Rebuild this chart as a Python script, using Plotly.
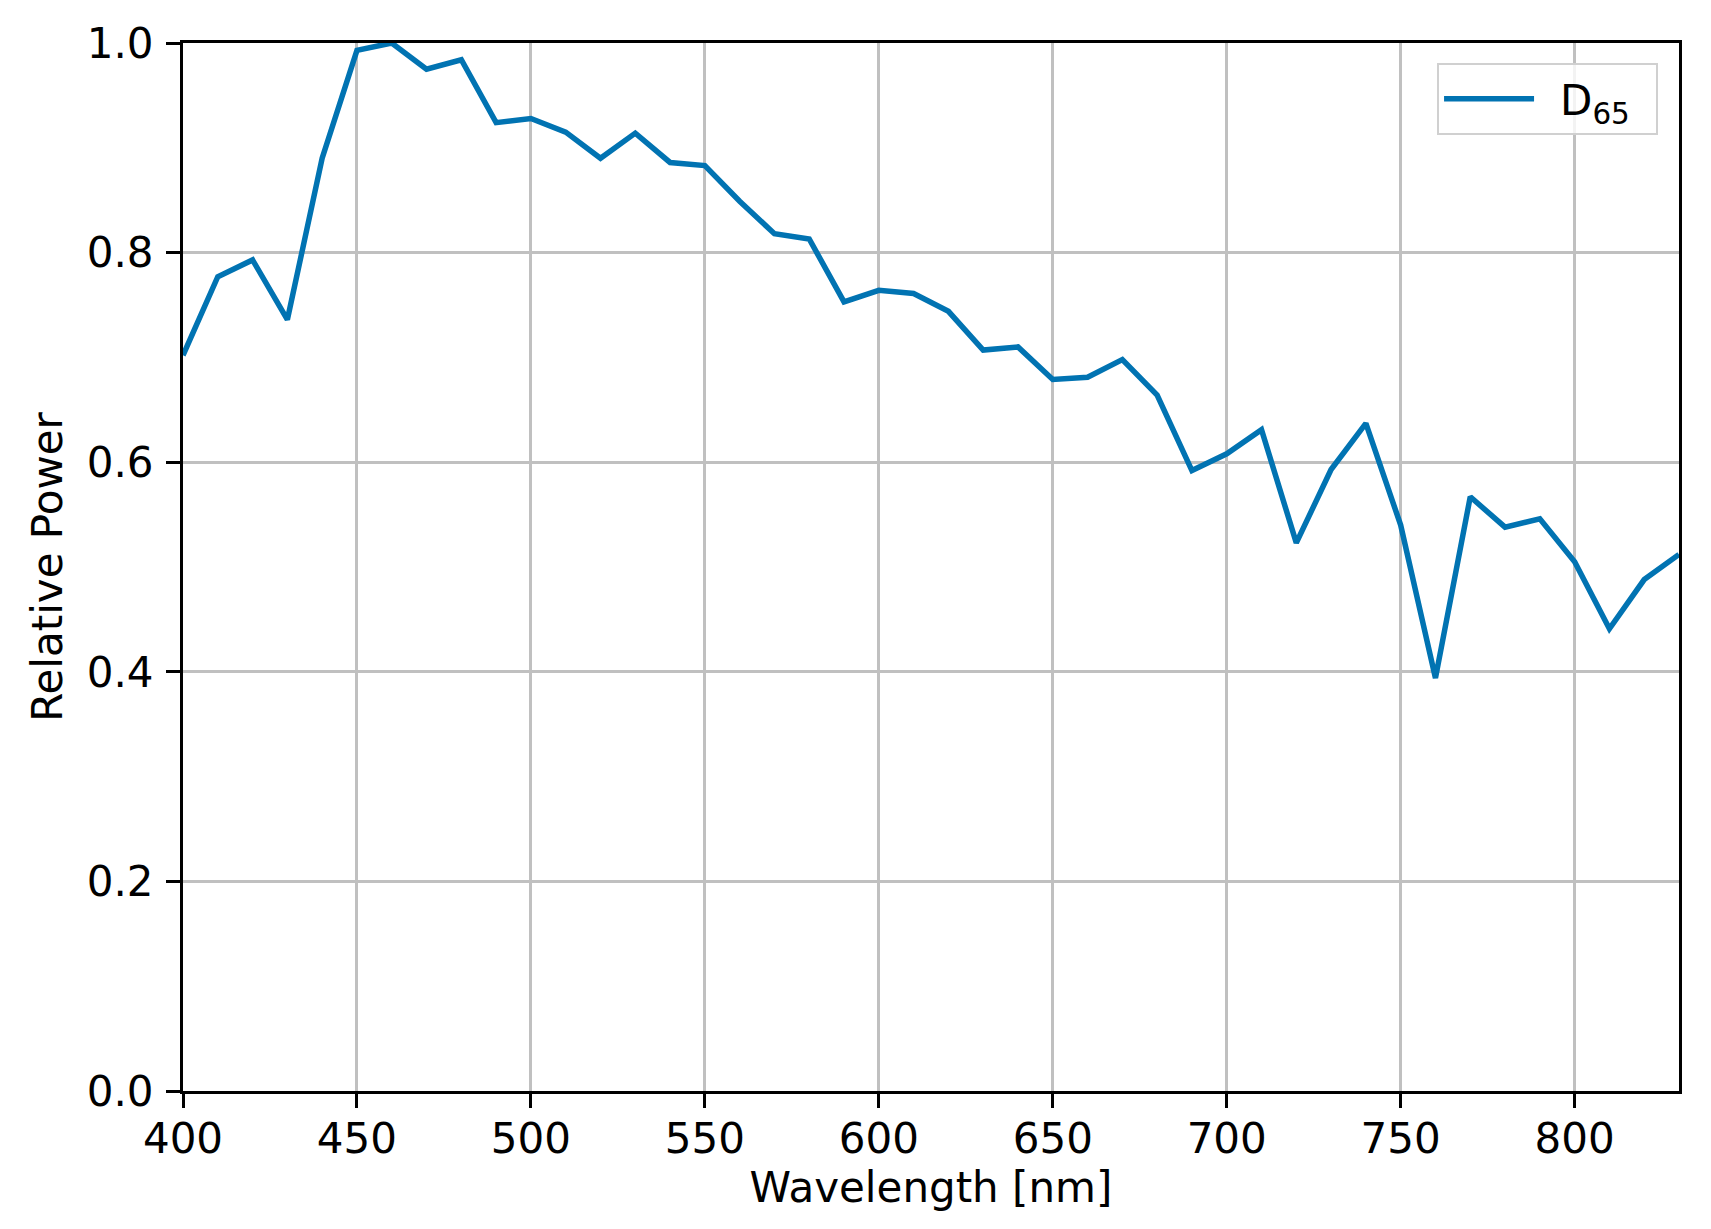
import plotly.graph_objects as go

wavelength_nm = [400, 410, 420, 430, 440, 450, 460, 470, 480, 490,
                 500, 510, 520, 530, 540, 550, 560, 570, 580, 590,
                 600, 610, 620, 630, 640, 650, 660, 670, 680, 690,
                 700, 710, 720, 730, 740, 750, 760, 770, 780, 790,
                 800, 810, 820, 830]
relative_power = [0.702, 0.777, 0.793, 0.736, 0.890, 0.993, 1.000, 0.975, 0.984, 0.924,
                  0.928, 0.915, 0.890, 0.914, 0.886, 0.883, 0.849, 0.818, 0.813, 0.753,
                  0.764, 0.761, 0.744, 0.707, 0.710, 0.679, 0.681, 0.698, 0.664, 0.592,
                  0.608, 0.631, 0.523, 0.593, 0.637, 0.540, 0.394, 0.567, 0.538, 0.546,
                  0.505, 0.441, 0.488, 0.512]
series_name = "\u2002D<sub>65</sub>\u2002"
x_ticks = [400, 450, 500, 550, 600, 650, 700, 750, 800]
y_ticks = [0.0, 0.2, 0.4, 0.6, 0.8, 1.0]

FONT = "DejaVu Sans"
FS = 42

fig = go.Figure()
fig.add_trace(go.Scatter(
    x=wavelength_nm, y=relative_power, mode="lines", name=series_name,
    line=dict(color="#0173B2", width=5.5),
))

axis_common = dict(
    showline=True, linecolor="black", linewidth=3, mirror=True,
    showgrid=True, gridcolor="#c0c0c0", gridwidth=2.5,
    ticks="outside", ticklen=14, tickwidth=3, tickcolor="black",
    tickfont=dict(family=FONT, size=FS, color="black"),
    zeroline=False,
)

fig.update_xaxes(
    range=[400, 830], tickvals=x_ticks, ticklabelstandoff=-5,
    title=dict(text="Wavelength [nm]", font=dict(family=FONT, size=FS, color="black"), standoff=6),
    **axis_common,
)
fig.update_yaxes(
    range=[0, 1], tickvals=y_ticks, tickformat=".1f", ticklabelstandoff=4,
    title=dict(text="Relative Power", font=dict(family=FONT, size=FS, color="black"), standoff=12),
    **axis_common,
)

fig.update_layout(
    width=1711, height=1229,
    margin=dict(l=175, r=40, t=35, b=146, autoexpand=False),
    paper_bgcolor="white", plot_bgcolor="white",
    font=dict(family=FONT, size=FS, color="black"),
    showlegend=True,
    legend=dict(
        x=0.986, y=0.981, xanchor="right", yanchor="top",
        bgcolor="rgba(255,255,255,0.8)", bordercolor="#d0d0d0", borderwidth=2,
        font=dict(family=FONT, size=FS, color="black"),
        itemwidth=90,
    ),
)

fig.write_html("out.html")
